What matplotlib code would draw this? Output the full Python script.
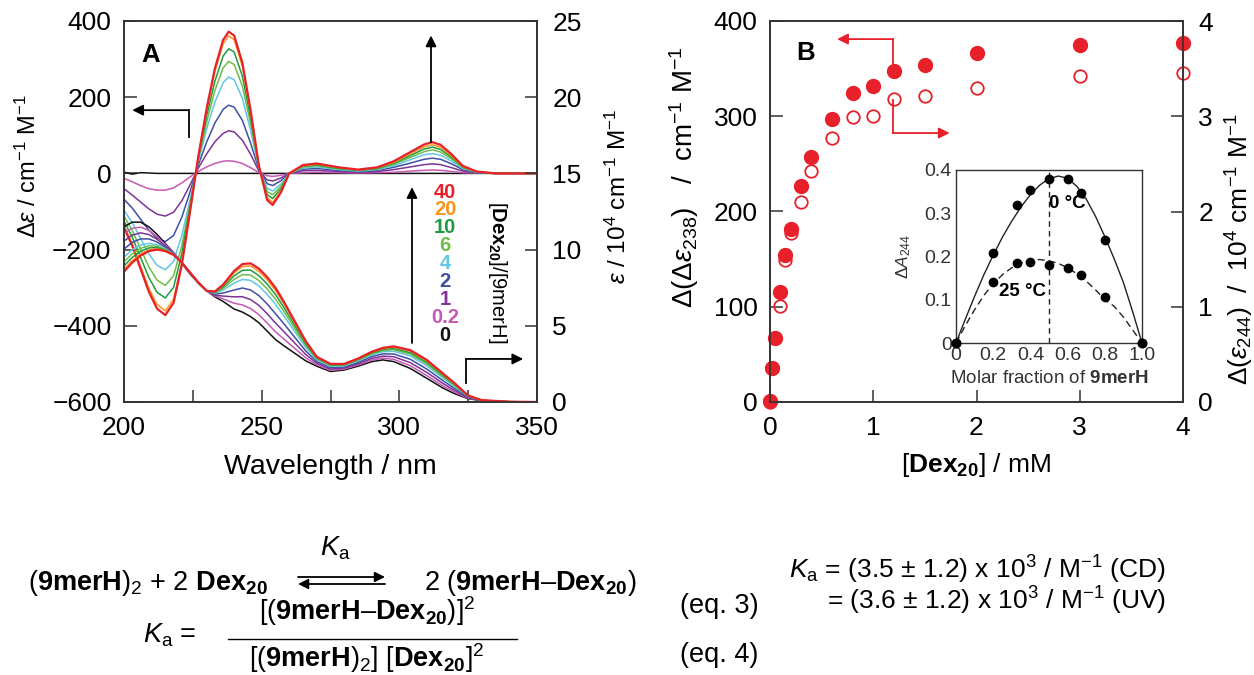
import matplotlib
matplotlib.use('Agg')
import matplotlib.pyplot as plt
from matplotlib.ticker import MultipleLocator
from matplotlib.patches import FancyArrowPatch
from matplotlib.lines import Line2D

plt.rcParams['font.family'] = ['Liberation Sans', 'DejaVu Sans']
plt.rcParams['mathtext.fontset'] = 'custom'
plt.rcParams['mathtext.rm'] = 'Liberation Sans'
plt.rcParams['mathtext.it'] = 'Liberation Sans:italic'
plt.rcParams['mathtext.bf'] = 'Liberation Sans:bold'
plt.rcParams['axes.unicode_minus'] = True

# ---------------- data: panel A ----------------
ratio_labels = ['40', '20', '10', '6', '4', '2', '1', '0.2', '0']
ratio_colors = ['#e8202a', '#f7941d', '#1e9a45', '#6cbf45', '#62c6e6',
                '#3f4fa3', '#7d3496', '#c759b5', '#111111']

cd_wl = [200, 203, 206, 209, 212, 215, 218, 221, 224, 227, 230, 233, 236, 238, 240,
         243, 246, 249, 252, 254, 257, 260, 265, 270, 278, 285, 292, 298, 304, 309,
         312, 315, 319, 323, 328, 335, 350]
cd_40 = [-142, -190, -250, -310, -355, -372, -340, -240, -100, 45, 170, 275, 350, 372, 362,
         290, 165, 20, -70, -83, -50, 0, 22, 26, 16, 10, 16, 32, 56, 76, 82, 75, 50, 20, 5, 0, 0]
cd_20 = [-138, -184, -243, -301, -344, -361, -330, -233, -97, 44, 165, 267, 340, 361, 351,
         281, 160, 19, -64, -76, -46, 0, 20, 24, 15, 9, 15, 29, 52, 70, 75, 69, 46, 18, 5, 0, 0]
cd_10 = [-125, -167, -220, -273, -312, -327, -299, -211, -88, 40, 150, 242, 308, 327, 319,
         255, 145, 18, -56, -66, -40, 0, 19, 22, 13, 8, 13, 27, 47, 64, 69, 63, 42, 17, 4, 0, 0]
cd_6 = [-112, -150, -198, -245, -280, -294, -269, -190, -79, 36, 134, 217, 277, 294, 286,
        229, 130, 16, -48, -56, -34, 0, 17, 20, 12, 8, 12, 24, 42, 57, 62, 56, 38, 15, 4, 0, 0]
cd_4 = [-97, -129, -170, -211, -241, -253, -231, -163, -68, 31, 116, 187, 238, 253, 246,
        197, 112, 14, -39, -46, -28, 0, 14, 17, 10, 6, 10, 20, 36, 49, 52, 48, 32, 13, 3, 0, 0]
cd_2 = [-68, -91, -120, -149, -170, -179, -163, -115, -48, 22, 82, 132, 168, 179, 174,
        139, 79, 10, -27, -32, -19, 0, 11, 13, 8, 5, 8, 16, 27, 37, 40, 37, 25, 10, 2, 0, 0]
cd_1 = [-40, -57, -75, -93, -107, -112, -102, -72, -30, 14, 51, 83, 105, 112, 109,
        87, 50, 6, -17, -20, -12, 0, 7, 8, 5, 3, 5, 10, 17, 23, 25, 23, 15, 6, 2, 0, 0]
cd_02 = [-13, -22, -32, -40, -44, -44, -38, -25, -9, 5, 17, 26, 32, 33, 32,
         26, 15, 2, -6, -8, -5, 0, 2, 3, 2, 1, 2, 3, 6, 8, 9, 8, 5, 2, 1, 0, 0]
cd_0 = [3, -2, 2, 1, 0, 0, 0, 0, 0, 0, 0, 0, 0, 0, 0,
        0, 0, 0, 0, 0, 0, 0, 0, 0, 0, 0, 0, 0, 0, 0, 0, 0, 0, 0, 0, 0, 0]

uv_wl = [200, 203, 206, 209, 212, 215, 218, 221, 224, 227, 230, 233, 236, 240, 243,
         246, 249, 252, 255, 258, 262, 266, 270, 275, 280, 285, 290, 294, 298, 304,
         310, 316, 320, 325, 330, 340, 350]
uv_40 = [8.55, 9.15, 9.60, 9.90, 10.00, 9.90, 9.65, 9.15, 8.50, 7.85, 7.30, 7.25, 7.70, 8.60, 9.05,
         9.10, 8.75, 8.20, 7.50, 6.60, 5.30, 4.00, 2.97, 2.50, 2.50, 2.85, 3.30, 3.55, 3.65, 3.40,
         2.76, 1.85, 1.25, 0.42, 0.12, 0.02, 0.0]
uv_20 = [8.70, 9.28, 9.71, 9.98, 10.05, 9.93, 9.66, 9.15, 8.50, 7.85, 7.30, 7.23, 7.65, 8.48, 8.89,
         8.93, 8.57, 8.02, 7.33, 6.46, 5.20, 3.94, 2.94, 2.48, 2.48, 2.83, 3.27, 3.51, 3.60, 3.34,
         2.70, 1.80, 1.22, 0.41, 0.12, 0.02, 0.0]
uv_10 = [8.93, 9.49, 9.89, 10.11, 10.13, 9.97, 9.67, 9.14, 8.49, 7.84, 7.30, 7.20, 7.56, 8.28, 8.64,
         8.65, 8.29, 7.74, 7.06, 6.22, 5.03, 3.83, 2.89, 2.44, 2.45, 2.79, 3.22, 3.45, 3.52, 3.24,
         2.60, 1.73, 1.16, 0.39, 0.11, 0.02, 0.0]
uv_6 = [9.20, 9.73, 10.08, 10.25, 10.22, 10.01, 9.68, 9.14, 8.48, 7.84, 7.30, 7.17, 7.46, 8.05, 8.36,
        8.33, 7.97, 7.42, 6.75, 5.96, 4.84, 3.71, 2.83, 2.39, 2.41, 2.74, 3.16, 3.38, 3.43, 3.14,
        2.49, 1.64, 1.10, 0.38, 0.11, 0.02, 0.0]
uv_4 = [9.49, 10.00, 10.30, 10.41, 10.32, 10.06, 9.70, 9.13, 8.47, 7.83, 7.30, 7.14, 7.35, 7.80, 8.04,
        7.98, 7.61, 7.06, 6.41, 5.67, 4.63, 3.58, 2.77, 2.34, 2.37, 2.69, 3.09, 3.30, 3.33, 3.02,
        2.37, 1.55, 1.03, 0.36, 0.11, 0.01, 0.0]
uv_2 = [10.03, 10.48, 10.70, 10.70, 10.50, 10.15, 9.73, 9.13, 8.45, 7.83, 7.30, 7.08, 7.15, 7.35, 7.48,
        7.35, 6.98, 6.43, 5.80, 5.15, 4.25, 3.35, 2.66, 2.25, 2.30, 2.60, 2.98, 3.16, 3.15, 2.80,
        2.16, 1.38, 0.90, 0.32, 0.10, 0.01, 0.0]
uv_1 = [10.56, 10.95, 11.10, 10.99, 10.68, 10.24, 9.75, 9.12, 8.43, 7.82, 7.30, 7.01, 6.95, 6.90, 6.91,
        6.72, 6.34, 5.79, 5.19, 4.63, 3.87, 3.12, 2.55, 2.16, 2.23, 2.51, 2.86, 3.01, 2.97, 2.58,
        1.94, 1.20, 0.77, 0.28, 0.09, 0.01, 0.0]
uv_02 = [11.06, 11.40, 11.47, 11.26, 10.85, 10.33, 9.78, 9.11, 8.42, 7.81, 7.30, 6.95, 6.77, 6.48, 6.37,
         6.13, 5.73, 5.18, 4.61, 4.14, 3.52, 2.90, 2.44, 2.08, 2.16, 2.43, 2.75, 2.88, 2.80, 2.38,
         1.73, 1.04, 0.66, 0.25, 0.09, 0.0, 0.0]
uv_0 = [11.5, 11.8, 11.8, 11.5, 11.0, 10.4, 9.8, 9.1, 8.4, 7.8, 7.3, 6.9, 6.6, 6.1, 5.9,
        5.6, 5.2, 4.65, 4.1, 3.7, 3.2, 2.7, 2.35, 2.0, 2.1, 2.35, 2.65, 2.76, 2.65, 2.2,
        1.55, 0.9, 0.55, 0.22, 0.08, 0.0, 0.0]

cd_series = [cd_40, cd_20, cd_10, cd_6, cd_4, cd_2, cd_1, cd_02, cd_0]
uv_series = [uv_40, uv_20, uv_10, uv_6, uv_4, uv_2, uv_1, uv_02, uv_0]

# ---------------- data: panel B ----------------
dex_conc = [0, 0.02, 0.05, 0.1, 0.15, 0.2, 0.3, 0.4, 0.6, 0.8, 1.0, 1.2, 1.5, 2.0, 3.0, 4.0]
d_de238 = [1, 36, 67, 115, 154, 182, 227, 257, 297, 324, 332, 347, 354, 366, 375, 377]
d_e244 = [0.0, 0.36, 0.67, 1.01, 1.49, 1.77, 2.10, 2.43, 2.77, 2.99, 3.00, 3.18, 3.21, 3.30, 3.42, 3.45]

# inset (Job plot)
job_x = [0, 0.2, 0.33, 0.4, 0.5, 0.6, 0.67, 0.8, 1.0]
job_0C = [0, 0.207, 0.32, 0.354, 0.38, 0.38, 0.346, 0.238, 0]
job_25C = [0, 0.141, 0.185, 0.188, 0.18, 0.174, 0.157, 0.107, 0]
fit_x = [0, 0.05, 0.1, 0.15, 0.2, 0.25, 0.3, 0.35, 0.4, 0.45, 0.5, 0.55, 0.6, 0.65, 0.7,
         0.75, 0.8, 0.85, 0.9, 0.95, 1.0]
fit_0C = [0, 0.055, 0.108, 0.158, 0.203, 0.245, 0.282, 0.315, 0.343, 0.365, 0.380, 0.386,
          0.381, 0.362, 0.333, 0.293, 0.246, 0.195, 0.140, 0.072, 0]
fit_25C = [0, 0.040, 0.077, 0.110, 0.137, 0.158, 0.174, 0.185, 0.191, 0.193, 0.190, 0.184,
           0.174, 0.160, 0.143, 0.123, 0.100, 0.085, 0.060, 0.030, 0]

RED = '#e8202a'
SPINE = '#333333'
W, H = 1254, 675
TICK = 19


def fx(x):
    return x / W


def fy(y):
    return 1 - y / H


fig = plt.figure(figsize=(12.54, 6.75), dpi=100)


def style_axes(ax):
    for s in ax.spines.values():
        s.set_linewidth(1.2)
        s.set_color(SPINE)


# ---------------- Panel A ----------------
axA = fig.add_axes([fx(124), fy(402), fx(537) - fx(124), fy(21) - fy(402)])
axA2 = axA.twinx()
style_axes(axA)
style_axes(axA2)
for cd, lab, col in list(zip(cd_series, ratio_labels, ratio_colors))[::-1]:
    axA.plot(cd_wl, cd, color=col, lw=1.6 if lab == '40' else 1.1)
for uv, lab, col in list(zip(uv_series, ratio_labels, ratio_colors))[::-1]:
    axA2.plot(uv_wl, uv, color=col, lw=1.6 if lab == '40' else 1.1)
axA.set_xlim(200, 350)
axA.set_ylim(-600, 400)
axA2.set_ylim(0, 25)
axA.xaxis.set_major_locator(MultipleLocator(50))
axA.xaxis.set_minor_locator(MultipleLocator(25))
axA.yaxis.set_major_locator(MultipleLocator(200))
axA2.yaxis.set_major_locator(MultipleLocator(5))
axA.tick_params(which='both', direction='in', length=9, width=1.1, color=SPINE,
                labelsize=TICK, right=False, top=False)
axA.tick_params(axis='y', pad=9)
axA.tick_params(axis='x', pad=10)
axA2.tick_params(direction='in', length=9, width=1.1, color=SPINE, labelsize=TICK, pad=11)
axA.set_xlabel('Wavelength / nm', fontsize=20.5, labelpad=10)
axA.set_ylabel(r'$\Delta\varepsilon$ / cm$^{-1}$ M$^{-1}$', fontsize=17)
axA.yaxis.set_label_coords(-0.2, 0.62)
axA2.set_ylabel(r'$\varepsilon$ / 10$^4$ cm$^{-1}$ M$^{-1}$', fontsize=17.5, rotation=90)
axA2.yaxis.set_label_coords(1.166, 0.54)

axA.text(0.065, 0.91, 'A', transform=axA.transAxes, fontsize=18.5, fontweight='bold',
         ha='center', va='center')

akw = dict(arrowstyle='-|>', color='black', lw=1.3, mutation_scale=16, shrinkA=0, shrinkB=0)
# left pointing bent arrow (CD axis)
axA.plot([223.5, 223.5], [95, 166], color='black', lw=1.3)
axA.annotate('', xy=(203, 166), xytext=(223.5, 166), arrowprops=akw)
# up arrows
axA.annotate('', xy=(311.5, 362), xytext=(311.5, 82), arrowprops=akw)
axA.annotate('', xy=(304.6, -36), xytext=(304.6, -445), arrowprops=akw)
# right-pointing bent arrow (UV axis)
axA.plot([324.2, 324.2], [-550, -487], color='black', lw=1.3)
axA.annotate('', xy=(345, -487), xytext=(324.2, -487), arrowprops=akw)

# ratio legend
for i, (lab, col) in enumerate(zip(ratio_labels, ratio_colors)):
    fig.text(fx(445), fy(192 + i * 17.9), lab, color=col, fontsize=14.5, fontweight='bold',
             ha='center', va='center')
fig.text(fx(498), fy(272), r'[$\mathbf{Dex}_{\mathbf{20}}$]/[9merH]', fontsize=14.5,
         rotation=-90, ha='center', va='center')

# ---------------- Panel B ----------------
axB = fig.add_axes([fx(770), fy(402), fx(1183) - fx(770), fy(21) - fy(402)])
axB2 = axB.twinx()
style_axes(axB)
style_axes(axB2)
axB2.plot(dex_conc, d_e244, linestyle='none', marker='o', markersize=9,
          markerfacecolor='none', markeredgecolor=RED, markeredgewidth=1.3, clip_on=False)
axB.plot(dex_conc, d_de238, linestyle='none', marker='o', markersize=10,
         color=RED, clip_on=False, zorder=5)
axB.set_xlim(0, 4)
axB.set_ylim(0, 400)
axB2.set_ylim(0, 4)
axB.xaxis.set_major_locator(MultipleLocator(1))
axB.yaxis.set_major_locator(MultipleLocator(100))
axB2.yaxis.set_major_locator(MultipleLocator(1))
axB.tick_params(direction='in', length=9, width=1.1, color=SPINE, labelsize=TICK,
                right=False, top=False)
axB.tick_params(axis='y', pad=9)
axB.tick_params(axis='x', pad=10)
axB2.tick_params(direction='in', length=9, width=1.1, color=SPINE, labelsize=TICK, pad=11)
axB.set_xlabel(r'[$\mathbf{Dex}_{\mathbf{20}}$] / mM', fontsize=19, labelpad=8)
axB.set_ylabel(r'$\Delta(\Delta\varepsilon_{238})$   /  cm$^{-1}$ M$^{-1}$', fontsize=20)
axB.yaxis.set_label_coords(-0.168, 0.59)
axB2.set_ylabel(r'$\Delta(\varepsilon_{244})$  /  10$^4$ cm$^{-1}$ M$^{-1}$', fontsize=19,
                rotation=90)
axB2.yaxis.set_label_coords(1.1, 0.4)
axB.text(0.087, 0.915, 'B', transform=axB.transAxes, fontsize=18.5, fontweight='bold',
         ha='center', va='center')

rkw = dict(arrowstyle='-|>', color=RED, lw=1.3, mutation_scale=16, shrinkA=0, shrinkB=0)
axB.plot([1.19, 1.19], [348.6, 381], color=RED, lw=1.3)
axB.annotate('', xy=(0.65, 381), xytext=(1.19, 381), arrowprops=rkw)
axB.plot([1.19, 1.19], [317, 282.4], color=RED, lw=1.3)
axB.annotate('', xy=(1.74, 282.4), xytext=(1.19, 282.4), arrowprops=rkw)

# ---------------- Inset ----------------
axI = fig.add_axes([fx(956), fy(343), fx(1142) - fx(956), fy(170) - fy(343)])
for s in axI.spines.values():
    s.set_linewidth(1.0)
    s.set_color(SPINE)
axI.plot(fit_x, fit_0C, color='#222222', lw=1.0)
axI.plot(fit_x, fit_25C, color='#222222', lw=1.0, linestyle=(0, (5, 3)))
axI.plot(job_x, job_0C, 'o', color='black', markersize=6, clip_on=False, zorder=5)
axI.plot(job_x, job_25C, 'o', color='black', markersize=6, clip_on=False, zorder=5)
axI.plot([0.5, 0.5], [0, 0.4], color='#222222', lw=1.0, linestyle=(0, (4, 3)))
axI.set_xlim(0, 1.0)
axI.set_ylim(0, 0.4)
axI.set_xticks([0, 0.2, 0.4, 0.6, 0.8, 1.0])
axI.set_xticklabels(['0', '0.2', '0.4', '0.6', '0.8', '1.0'])
axI.set_yticks([0, 0.1, 0.2, 0.3, 0.4])
axI.set_yticklabels(['0', '0.1', '0.2', '0.3', '0.4'])
axI.tick_params(length=0, labelsize=14, pad=3, colors='#333333')
axI.set_xlabel(r'Molar fraction of $\mathbf{9merH}$', fontsize=13.5, labelpad=4, color='#333333')
axI.set_ylabel(r'$\Delta A_{244}$', fontsize=12.5, labelpad=8, color='#333333')
axI.text(0.6, 0.322, '0 \u00b0C', fontsize=13.5, fontweight='bold', ha='center', va='center')
axI.text(0.355, 0.118, '25 \u00b0C', fontsize=13.5, fontweight='bold', ha='center', va='center')

# ---------------- Equations ----------------
EQ = 19.5
fig.text(fx(335), fy(548), r'$K_\mathrm{a}$', fontsize=EQ, ha='center', va='center')
fig.text(fx(28), fy(583), r'($\mathbf{9merH}$)$_2$ + 2 $\mathbf{Dex}_{\mathbf{20}}$',
         fontsize=EQ, ha='left', va='center')
fig.add_artist(FancyArrowPatch((fx(298), fy(577)), (fx(385), fy(577)),
                               transform=fig.transFigure, arrowstyle='-|>', color='black',
                               lw=1.3, mutation_scale=15, shrinkA=0, shrinkB=0))
fig.add_artist(FancyArrowPatch((fx(385), fy(584)), (fx(298), fy(584)),
                               transform=fig.transFigure, arrowstyle='-|>', color='black',
                               lw=1.3, mutation_scale=15, shrinkA=0, shrinkB=0))
fig.text(fx(424), fy(583), '2 ($\\mathbf{9merH}$\u2013$\\mathbf{Dex}_{\\mathbf{20}}$)',
         fontsize=EQ, ha='left', va='center')
fig.text(fx(719), fy(606), '(eq. 3)', fontsize=EQ, ha='center', va='center')
fig.text(fx(143), fy(635), r'$K_\mathrm{a}$ =', fontsize=EQ, ha='left', va='center')
fig.text(fx(367), fy(611), '[($\\mathbf{9merH}$\u2013$\\mathbf{Dex}_{\\mathbf{20}}$)]$^2$',
         fontsize=EQ, ha='center', va='center')
fig.add_artist(Line2D([fx(228), fx(517)], [fy(639), fy(639)], color='black', lw=1.0,
                      transform=fig.transFigure))
fig.text(fx(367), fy(658), r'[($\mathbf{9merH}$)$_2$] [$\mathbf{Dex}_{\mathbf{20}}$]$^2$',
         fontsize=EQ, ha='center', va='center')
fig.text(fx(719), fy(655), '(eq. 4)', fontsize=EQ, ha='center', va='center')
fig.text(fx(789), fy(570), '$K_\\mathrm{a}$ = (3.5 \u00b1 1.2) x 10$^3$ / M$^{-1}$ (CD)',
         fontsize=19, ha='left', va='center')
fig.text(fx(827), fy(601), '= (3.6 \u00b1 1.2) x 10$^3$ / M$^{-1}$ (UV)',
         fontsize=19, ha='left', va='center')

fig.savefig('out.png', dpi=100)
